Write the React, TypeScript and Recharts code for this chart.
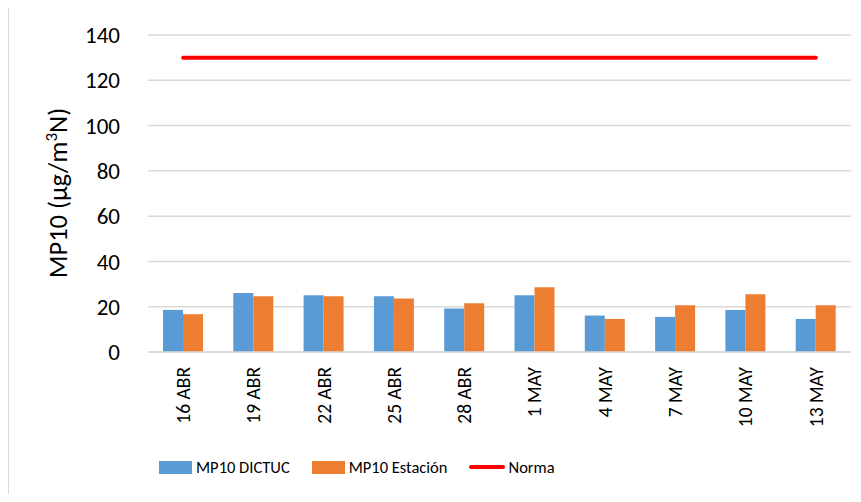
import {
  ComposedChart,
  Bar,
  Line,
  XAxis,
  YAxis,
  CartesianGrid,
  Legend,
} from 'recharts'

const categories = ['16 ABR', '19 ABR', '22 ABR', '25 ABR', '28 ABR', '1 MAY', '4 MAY', '7 MAY', '10 MAY', '13 MAY']
const dictuc = [18.6, 26.1, 25.1, 24.6, 19.2, 25.1, 16.1, 15.5, 18.6, 14.6]
const estacion = [16.7, 24.6, 24.6, 23.6, 21.5, 28.6, 14.6, 20.6, 25.5, 20.6]
const norma = [130, 130, 130, 130, 130, 130, 130, 130, 130, 130]
const yTicks = [0, 20, 40, 60, 80, 100, 120, 140]

const FONT = 'Calibri, Carlito, Lato, sans-serif'
const BLUE = '#5B9BD5'
const ORANGE = '#ED7D31'
const RED = '#FF0000'

const data = categories.map((c, i) => ({
  name: c,
  dictuc: dictuc[i],
  estacion: estacion[i],
  norma: norma[i],
}))

// rotated category labels, reading bottom-to-top
const XTick = ({ x, y, payload }: any) => (
  <text
    x={x}
    y={y + 15}
    transform={`rotate(-90, ${x}, ${y + 15})`}
    textAnchor="end"
    dy="0.35em"
    fill="#000"
    fontSize={19.5}
    fontFamily={FONT}
  >
    {payload.value}
  </text>
)

const YLabel = () => (
  <text
    x={58}
    y={193}
    transform="rotate(-90, 58, 193)"
    textAnchor="middle"
    dy="0.35em"
    fill="#000"
    fontSize={26.5}
    fontFamily={FONT}
  >
    MP10 (µg/m
    <tspan baselineShift="super" fontSize={17}>3</tspan>
    N)
  </text>
)

const LegendContent = () => {
  const items = [
    { label: 'MP10 DICTUC', color: BLUE, kind: 'bar' },
    { label: 'MP10 Estación', color: ORANGE, kind: 'bar' },
    { label: 'Norma', color: RED, kind: 'line' },
  ]
  return (
    <div style={{ display: 'flex', alignItems: 'center', fontFamily: FONT, fontSize: 16.5, color: '#000' }}>
      {items.map((it) => (
        <div key={it.label} style={{ display: 'flex', alignItems: 'center', marginRight: 22 }}>
          {it.kind === 'bar' ? (
            <div style={{ width: 33, height: 13, background: it.color, marginRight: 4 }} />
          ) : (
            <div style={{ width: 36, height: 4, borderRadius: 2, background: it.color, marginRight: 3 }} />
          )}
          <span>{it.label}</span>
        </div>
      ))}
    </div>
  )
}

export default function App() {
  return (
    <div style={{ position: 'relative', width: 861, height: 502, margin: -8, background: '#fff', overflow: 'hidden' }}>
      {/* chart frame, only the left and top edges are visible */}
      <div style={{ position: 'absolute', left: 7, top: 5, right: -10, bottom: -10, borderLeft: '2px solid #d9d9d9', borderTop: '2px solid #d9d9d9' }} />
      <ComposedChart
        width={861}
        height={502}
        data={data}
        margin={{ top: 35, right: 10, left: 0, bottom: 50 }}
        barGap={0}
        barSize={20}
        style={{ position: 'absolute', left: 0, top: 0 }}
      >
        <CartesianGrid vertical={false} stroke="#d9d9d9" strokeWidth={1.5} />
        <XAxis
          dataKey="name"
          height={100}
          tickLine={false}
          axisLine={{ stroke: '#d9d9d9', strokeWidth: 1.5 }}
          tickSize={0}
          tickMargin={0}
          interval={0}
          tick={<XTick />}
        />
        <YAxis
          width={148}
          domain={[0, 140]}
          ticks={yTicks}
          axisLine={false}
          tickLine={false}
          tickSize={0}
          tickMargin={28}
          tick={{ fill: '#000', fontSize: 23, fontFamily: FONT }}
          label={<YLabel />}
        />
        <Bar dataKey="dictuc" name="MP10 DICTUC" fill={BLUE} isAnimationActive={false} />
        <Bar dataKey="estacion" name="MP10 Estación" fill={ORANGE} isAnimationActive={false} />
        <Line
          dataKey="norma"
          name="Norma"
          stroke={RED}
          strokeWidth={4}
          strokeLinecap="round"
          dot={false}
          activeDot={false}
          isAnimationActive={false}
        />
        <Legend
          layout="horizontal"
          verticalAlign="middle"
          content={<LegendContent />}
          wrapperStyle={{ left: 159, top: 457, width: 'auto' }}
        />
      </ComposedChart>
    </div>
  )
}
